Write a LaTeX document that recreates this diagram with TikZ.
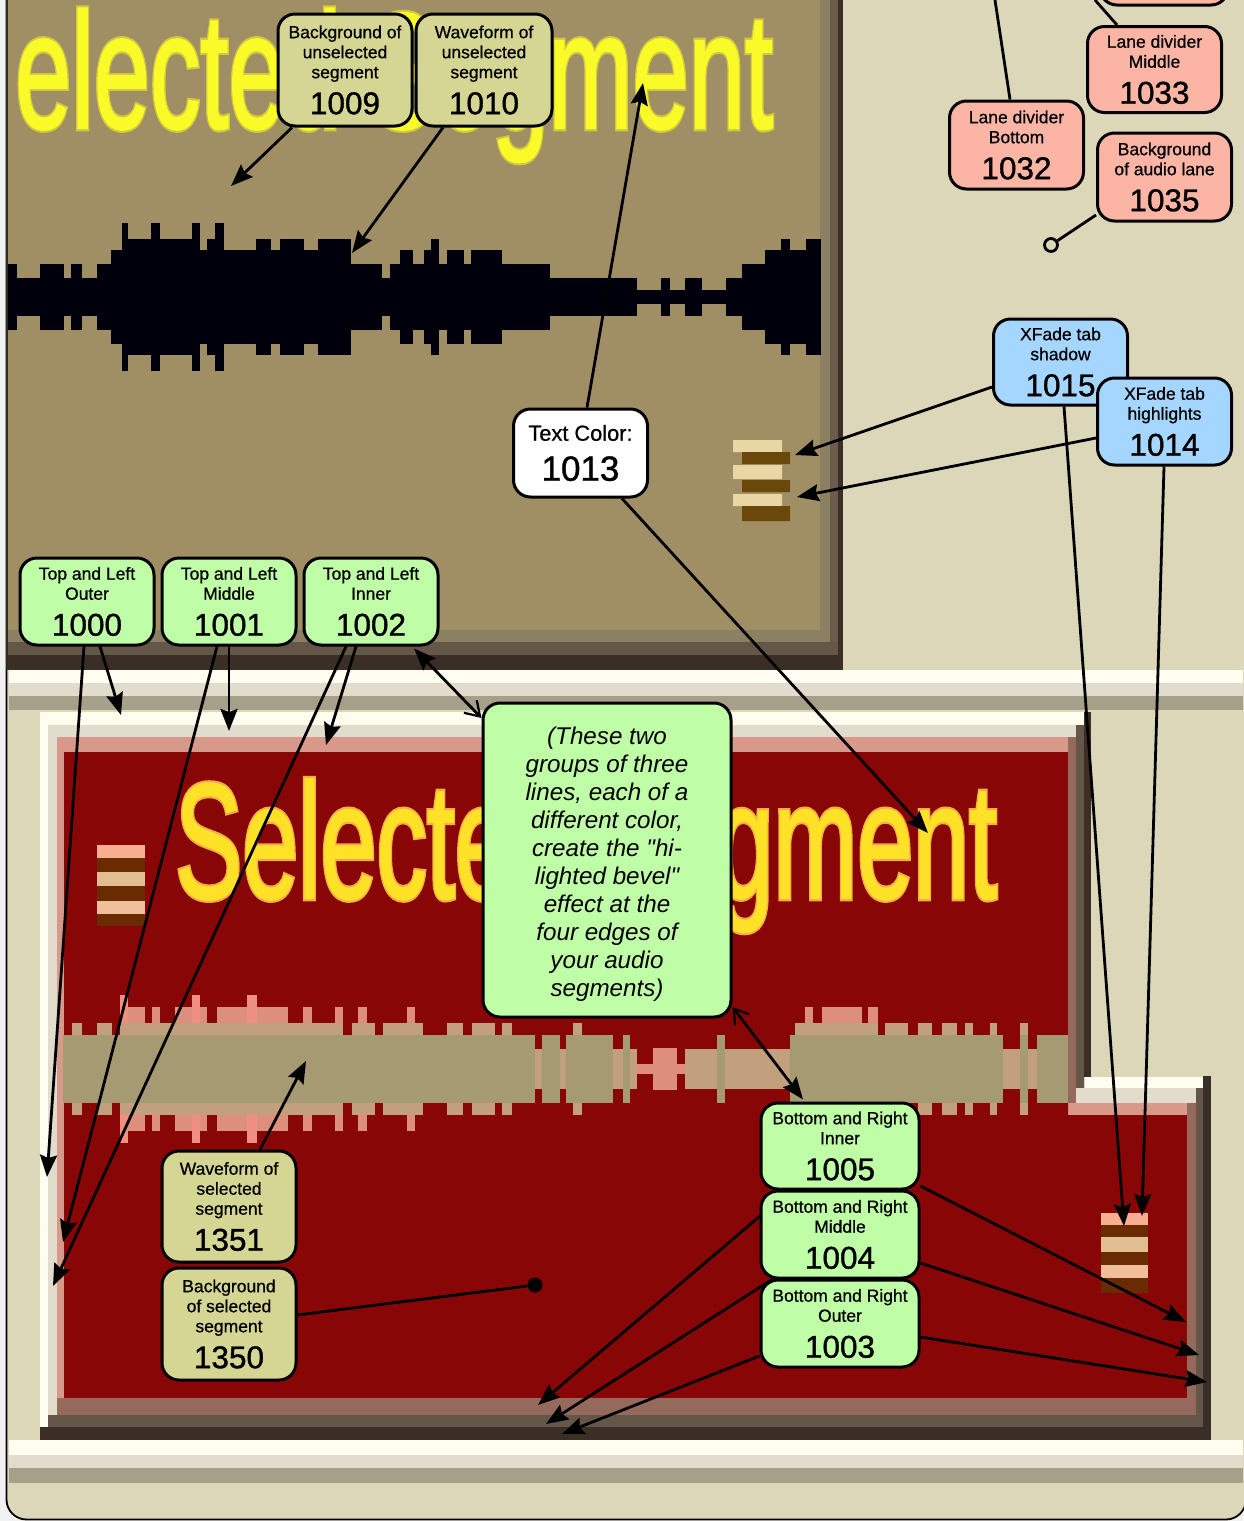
\documentclass[tikz,border=0pt]{standalone}
\usepackage{fontspec}
\usepackage{graphicx}
\setmainfont{Liberation Sans}
\newfontfamily\labf[FakeBold=0.7]{Liberation Sans}
\newfontfamily\numf[FakeBold=1.1]{Liberation Sans}
\newfontfamily\notef{Liberation Sans}
\newfontfamily\bigf[FakeBold=1.5]{Liberation Sans}
\newfontfamily\bigo[FakeBold=4]{Liberation Sans}
\usetikzlibrary{arrows.meta}
\pgfdeclarelayer{back}\pgfdeclarelayer{conn}
\pgfsetlayers{back,conn,main}
\definecolor{beige}{HTML}{DDD7BA}
\definecolor{tanp}{HTML}{A08E64}
\definecolor{redp}{HTML}{880606}
\definecolor{wht}{HTML}{FFFDF0}
\definecolor{lite}{HTML}{E2DCCC}
\definecolor{greyb}{HTML}{A6A08A}
\definecolor{pinkb}{HTML}{D8988A}
\definecolor{brownb}{HTML}{956A5C}
\definecolor{midb}{HTML}{65564A}
\definecolor{darkb}{HTML}{3A2E26}
\definecolor{wP}{HTML}{DE8E7C}
\definecolor{wM}{HTML}{C2A07E}
\definecolor{wC}{HTML}{A59A72}
\definecolor{wT}{HTML}{EE8F80}
\definecolor{gbox}{HTML}{BFFDA6}
\definecolor{obox}{HTML}{D5D594}
\definecolor{pbox}{HTML}{FCB5A4}
\definecolor{bbox}{HTML}{A5D6FF}
\definecolor{bev}{HTML}{8C8064}
\definecolor{ylo}{HTML}{FAFA28}
\definecolor{ylob}{HTML}{D0C840}
\definecolor{ora}{HTML}{F5AA46}
\definecolor{ory}{HTML}{FFE128}
\definecolor{tl}{HTML}{E8D6A5}
\definecolor{td}{HTML}{69480A}
\definecolor{sd}{HTML}{6A2A02}
\definecolor{s1}{HTML}{F8AF91}
\definecolor{s2}{HTML}{E1BE91}
\definecolor{s3}{HTML}{F0BE9B}
\newcommand\bxf{\labf\fontsize{17.5}{20}\selectfont\lineskiplimit=-100pt\relax\lineskip=0pt\relax}
\newcommand\bxw{\labf\fontsize{21.8}{22}\selectfont\lineskiplimit=-100pt\relax\lineskip=0pt\relax}
\newcommand\bxn{\notef\itshape\fontsize{24.2}{28}\selectfont}
\tikzset{
 box/.style={draw=black,line width=3pt,rounded corners=17pt,inner sep=0pt,align=center,minimum width=134pt,font=\bxf},
 gb/.style={box,fill=gbox},
 ob/.style={box,fill=obox},
 pb/.style={box,fill=pbox},
 bb/.style={box,fill=bbox},
 arr/.style={line width=2.8pt,-{Stealth[length=22pt,width=17pt,inset=3pt]}},
 dbl/.style={line width=2.8pt,{Straight Barb[length=14pt,width=18pt,line width=2.2pt]}-{Stealth[length=22pt,width=17pt,inset=3pt]}},
 lin/.style={line width=2.8pt},
}
\newcommand\nm[1]{\\[16pt]{\numf\fontsize{31.5}{20}\selectfont #1}}
% x0, list of a/b/halfheight with a,b in 3x-zoom units; 21 = pink, 20 = pink-tan narrow column
\newcommand\wavesel[2]{\foreach \a/\b/\h in {#2}{
  \ifnum\h>62 \fill[wT] ({#1+\a/3},{1069-\h}) rectangle ({#1+\b/3},{1069+\h});\else
  \ifnum\h=20 \fill[wM] ({#1+\a/3},{1069-\h}) rectangle ({#1+\b/3},{1069+\h});\else
  \fill[wP] ({#1+\a/3},{1069-\h}) rectangle ({#1+\b/3},{1069+\h});\fi\fi
  \ifnum\h>33
   \pgfmathsetmacro\hh{min(\h,46)}
   \fill[wM] ({#1+\a/3},{1069-\hh}) rectangle ({#1+\b/3},{1069+\hh});
   \fill[wC] ({#1+\a/3},1035) rectangle ({#1+\b/3},1103);
  \fi}}
\begin{document}
\begin{tikzpicture}[x=1pt,y=-1pt]
\useasboundingbox (0,0) rectangle (1243,1521);
\begin{pgfonlayer}{back}
\fill[white!90!gray] (0,0) rectangle (1243,1521);
\draw[fill=beige,line width=1.8pt,rounded corners=20pt] (6.5,-60) rectangle (1246,1519.5);
% --- top (unselected) segment
\fill[tanp] (8,0) rectangle (843,670);
\fill[black!70!tanp] (6,0) rectangle (8,670);
\fill[bev] (820,0) rectangle (843,670);
\fill[bev] (8,630) rectangle (843,670);
\fill[midb!90!tanp] (830,0) rectangle (843,670);
\fill[midb] (8,642) rectangle (843,670);
\fill[darkb] (838,0) rectangle (843,670);
\fill[darkb] (8,655) rectangle (843,670);
\node[anchor=base west,inner sep=0pt,text=ylob] (seltxtA) at (15,128) {\scalebox{1}[1.63]{\bigo\fontsize{101}{101}\selectfont elected Segment}};
\node[anchor=base west,inner sep=0pt,text=ylo] (seltxtB) at (15,128) {\scalebox{1}[1.63]{\bigf\fontsize{101}{101}\selectfont elected Segment}};
% black waveform
\begin{scope}[x=0.542pt]
\foreach \a/\b/\h in {15/30/33,30/75/19,75/118/33,118/132/19,132/150/33,150/180/19,180/205/33,205/225/47,225/235/74,235/280/58,280/295/74,295/355/58,355/368/74,368/382/47,382/398/58,398/412/74,412/472/47,472/500/58,500/518/47,518/560/58,560/588/47,588/648/58,648/705/33,705/720/19,720/738/33,738/762/47,762/782/33,782/795/47,795/810/58,810/825/33,825/855/47,855/870/33,870/925/47,925/1015/33,1015/1175/19,1175/1220/7,1220/1235/19,1235/1265/7,1265/1295/19,1295/1340/7,1340/1370/19,1370/1412/33,1412/1442/47,1442/1457/58,1457/1487/47,1487/1515/58}
 \fill[black!95!blue] (\a-0.5,297-\h) rectangle (\b+0.5,297+\h);
\end{scope}
% xfade tab on unselected
\fill[tl] (733,440) rectangle (782,452) (733,465) rectangle (782,479) (733,494) rectangle (782,506);
\fill[td] (742,452) rectangle (790,464) (742,480) rectangle (790,492) (742,506) rectangle (790,521);
% --- bands
\fill[wht] (9,670) rectangle (1243,683);
\fill[lite] (9,683) rectangle (1243,696);
\fill[greyb] (9,696) rectangle (1243,710);
\fill[wht] (9,1440) rectangle (1243,1455);
\fill[lite] (9,1455) rectangle (1243,1468);
\fill[greyb] (9,1468) rectangle (1243,1483);
% --- selected segment: outer to inner
\fill[wht] (40,712) rectangle (1084,1427) ;
\fill[wht] (1085,1077) rectangle (1203,1427);
\fill[lite] (48,725) rectangle (1078,1415) (1078,1088) rectangle (1196,1415);
\fill[pinkb] (57,737) rectangle (1068,1398) (1068,1103) rectangle (1187,1398);
\fill[redp] (64,752) rectangle (1068,1398) (1068,1115) rectangle (1187,1398);
% right bevels of the main body
\fill[brownb] (1068,737) rectangle (1076,1103);
\fill[midb] (1076,725) rectangle (1084,1088);
\fill[darkb] (1084,712) rectangle (1091,1077);
% right bevels of tab and bottom
\fill[brownb] (1187,1103) rectangle (1196,1415);
\fill[midb] (1196,1088) rectangle (1203,1427);
\fill[darkb] (1203,1076) rectangle (1211,1440);
\fill[brownb] (57,1398) rectangle (1196,1415);
\fill[midb] (48,1415) rectangle (1203,1427);
\fill[darkb] (40,1427) rectangle (1211,1440);
% selected text
\node[anchor=base west,inner sep=0pt,text=ora] (seltxtC) at (175,898) {\scalebox{1}[1.63]{\bigo\fontsize{100.6}{100}\selectfont Selected Segment}};
\node[anchor=base west,inner sep=0pt,text=ory] (seltxtD) at (175,898) {\scalebox{1}[1.63]{\bigf\fontsize{100.6}{100}\selectfont Selected Segment}};
% selected waveform
\wavesel{60}{10/35/34,35/65/46,65/110/34,110/155/46,155/180/34,180/205/74,205/255/62,255/275/46,275/300/62,300/345/46,345/395/62,395/420/74,420/440/62,440/470/46,470/560/62,560/590/74,590/685/62,685/730/46,730/755/62,755/825/46,825/850/62,850/875/34,875/895/46,895/920/62,920/945/46,945/970/34,970/1040/46,1040/1065/62,1065/1090/46,1090/1160/34,1160/1210/46,1210/1235/34,1235/1260/46}
\wavesel{480}{0/45/46,45/65/34,65/95/46,95/165/34,165/185/20,185/240/34,240/258/20,258/280/34,280/305/46,305/400/34,400/430/20,430/450/34,450/470/20,470/520/5,520/590/21,590/615/5,615/712/20,712/735/34,735/930/20,930/950/34,950/975/46}
\wavesel{800}{-15/15/46,15/40/62,40/65/46,65/185/62,185/205/46,205/235/62,235/255/34,255/325/46,325/355/34,355/395/46,395/425/34,425/470/46,470/495/34,495/520/46,520/570/34,570/590/46,590/610/34,610/660/20,660/685/46,685/710/20,710/805/34}
% xfade tabs on selected
\fill[sd] (97,858) rectangle (145,926);
\fill[s1] (97,845) rectangle (145,858);
\fill[s2] (97,872) rectangle (145,886);
\fill[s3] (97,901) rectangle (145,914);
\fill[sd] (1101,1225) rectangle (1148,1293);
\fill[s1] (1101,1213) rectangle (1148,1225);
\fill[s2] (1101,1237) rectangle (1148,1252);
\fill[s3] (1101,1265) rectangle (1148,1278);
\end{pgfonlayer}

% --- labelled boxes
\node[ob,minimum height=112pt] (b1009) at (345,70) {Background of\\unselected\\segment\nm{1009}};
\node[ob,minimum height=112pt,minimum width=136pt] (b1010) at (484,70) {Waveform of\\unselected\\segment\nm{1010}};
\node[pb,minimum height=60pt,minimum width=128pt] (btop) at (1164,-25) {};
\node[pb,minimum height=86pt] (b1033) at (1154.5,69.5) {Lane divider\\Middle\nm{1033}};
\node[pb,minimum height=88pt] (b1032) at (1016.5,145) {Lane divider\\Bottom\nm{1032}};
\node[pb,minimum height=88pt] (b1035) at (1164.5,177) {Background\\of audio lane\nm{1035}};
\node[bb,minimum height=86pt] (b1015) at (1060.5,362) {XFade tab\\shadow\nm{1015}};
\node[bb,minimum height=87pt] (b1014) at (1164.5,421.5) {XFade tab\\highlights\nm{1014}};
\node[box,fill=white,minimum height=88pt,font=\bxw] (b1013) at (580.5,453) {Text Color:\\[18pt]{\numf\fontsize{35}{22}\selectfont 1013}};
\node[gb,minimum height=87pt] (b1000) at (87,601.5) {Top and Left\\Outer\nm{1000}};
\node[gb,minimum height=87pt] (b1001) at (229,601.5) {Top and Left\\Middle\nm{1001}};
\node[gb,minimum height=87pt] (b1002) at (371,601.5) {Top and Left\\Inner\nm{1002}};
\node[box,fill=gbox,minimum width=248pt,minimum height=314pt,font=\bxn] (note) at (607,860)
 {\rule{0pt}{25pt}(These two\\groups of three\\lines, each of a\\different color,\\create the "hi-\\lighted bevel"\\effect at the\\four edges of\\your audio\\segments)};
\node[gb,minimum width=158pt,minimum height=86pt] (b1005) at (840,1146) {Bottom and Right\\Inner\nm{1005}};
\node[gb,minimum width=158pt,minimum height=87pt] (b1004) at (840,1234.5) {Bottom and Right\\Middle\nm{1004}};
\node[gb,minimum width=158pt,minimum height=87pt] (b1003) at (840,1323.5) {Bottom and Right\\Outer\nm{1003}};
\node[ob,minimum height=111pt] (b1351) at (229,1206.5) {Waveform of\\selected\\segment\nm{1351}};
\node[ob,minimum height=112pt] (b1350) at (229,1324) {Background\\of selected\\segment\nm{1350}};
\node[circle,draw,line width=2.8pt,minimum size=13pt,inner sep=0pt] (c1035) at (1051,245) {};
\node[circle,fill=black,minimum size=15pt,inner sep=0pt] (d1350) at (535,1285) {};

% --- free ends
\coordinate (e1009) at (231,186);
\coordinate (e1010) at (352,253);
\coordinate (e1013a) at (643,83);
\coordinate (e1013b) at (928,833);
\coordinate (e1015a) at (795,455);
\coordinate (e1014a) at (797,497);
\coordinate (e1015b) at (1124,1226);
\coordinate (e1014b) at (1142,1216);
\coordinate (e1000a) at (47,1177);
\coordinate (e1000b) at (121,715);
\coordinate (e1001a) at (229,731);
\coordinate (e1001b) at (63,1242);
\coordinate (e1002a) at (326,745);
\coordinate (e1002b) at (53,1286);
\coordinate (e1005a) at (1186,1322);
\coordinate (e1004a) at (1199,1355);
\coordinate (e1003a) at (1207,1382);
\coordinate (e1005b) at (538,1405);
\coordinate (e1004b) at (546,1424);
\coordinate (e1003b) at (562,1434);
\coordinate (e1351) at (306,1061);
\coordinate (e1032) at (995,0);
\coordinate (e1033) at (1095,0);

\begin{pgfonlayer}{conn}
\draw[arr] ([xshift=-53pt]b1009.south) -- (e1009);
\draw[arr] ([xshift=-41pt]b1010.south) -- (e1010);
\draw[arr] ([xshift=6.5pt]b1013.north) -- (e1013a);
\draw[arr] ([xshift=41.5pt]b1013.south) -- (e1013b);
\draw[arr] ([yshift=-25pt]b1015.west) -- (e1015a);
\draw[arr] ([yshift=-16.5pt]b1014.west) -- (e1014a);
\draw[arr] ([xshift=3.5pt]b1015.south) -- (e1015b);
\draw[arr] ([xshift=-0.5pt]b1014.south) -- (e1014b);
\draw[arr] ([xshift=-3pt]b1000.south) -- (e1000a);
\draw[arr] ([xshift=13pt]b1000.south) -- (e1000b);
\draw[arr] (b1001.south) -- (e1001a);
\draw[arr] ([xshift=-12pt]b1001.south) -- (e1001b);
\draw[arr] ([xshift=-15pt]b1002.south) -- (e1002a);
\draw[arr] ([xshift=-25pt]b1002.south) -- (e1002b);
\draw[dbl] ([yshift=142pt]note.west) -- ([xshift=43pt,yshift=-2pt]b1002.south);
\draw[dbl] ([yshift=-147pt]note.east) -- ([xshift=-37pt,yshift=2pt]b1005.north);
\draw[arr] ([yshift=-40pt]b1005.east) -- (e1005a);
\draw[arr] ([yshift=-28.5pt]b1004.east) -- (e1004a);
\draw[arr] ([yshift=-13.5pt]b1003.east) -- (e1003a);
\draw[arr] ([xshift=-50pt]b1005.south) -- (e1005b);
\draw[arr] ([xshift=-68pt]b1004.south) -- (e1004b);
\draw[arr] ([yshift=-32.5pt]b1003.west) -- (e1003b);
\draw[arr] ([xshift=31pt]b1351.north) -- (e1351);
\draw[lin] ([yshift=9pt]b1350.east) -- (d1350);
\draw[lin] ([yshift=-38pt]b1035.west) -- (c1035);
\draw[lin] ([xshift=-6.5pt]b1032.north) -- (e1032);
\draw[lin] ([xshift=-37.5pt]b1033.north) -- (e1033);
\end{pgfonlayer}
\end{tikzpicture}
\end{document}
